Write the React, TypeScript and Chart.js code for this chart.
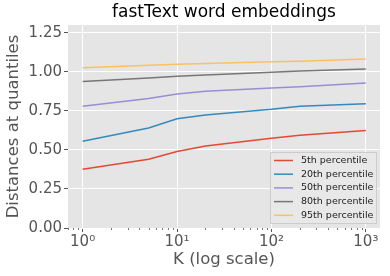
import React, { useEffect, useRef } from "react";
import { Chart, registerables } from "chart.js";

Chart.register(...registerables);

const K_VALUES = [1, 5, 10, 20, 100, 200, 1000];
const P5 = [0.376, 0.44, 0.49, 0.525, 0.575, 0.594, 0.624];
const P20 = [0.556, 0.64, 0.70, 0.724, 0.76, 0.78, 0.796];
const P50 = [0.78, 0.83, 0.858, 0.875, 0.896, 0.905, 0.928];
const P80 = [0.938, 0.96, 0.972, 0.98, 0.998, 1.005, 1.019];
const P95 = [1.027, 1.043, 1.049, 1.053, 1.064, 1.068, 1.083];
const SERIES_LABELS = ["5th percentile", "20th percentile", "50th percentile", "80th percentile", "95th percentile"];
const SERIES_COLORS = ["#E24A33", "#348ABD", "#988ED5", "#777777", "#FBC15E"];
const X_TICKS = [1, 10, 100, 1000];
const X_TICK_LABELS = ["10⁰", "10¹", "10²", "10³"];
const Y_TICKS = [0, 0.25, 0.5, 0.75, 1.0, 1.25];
const TITLE = "fastText word embeddings";

const FONT = "'DejaVu Sans', sans-serif";

const minorTicksPlugin = {
  id: "minorTicks",
  afterDatasetsDraw(chart: any) {
    const ctx = chart.ctx;
    const xs = chart.scales.x;
    const bottom = chart.chartArea.bottom;
    ctx.save();
    ctx.strokeStyle = "#555555";
    ctx.lineWidth = 0.8;
    for (let e = -1; e <= 3; e++) {
      for (let m = 2; m <= 9; m++) {
        const v = m * Math.pow(10, e);
        if (v < xs.min || v > xs.max) continue;
        const px = Math.round(xs.getPixelForValue(v)) + 0.5;
        ctx.beginPath();
        ctx.moveTo(px, bottom);
        ctx.lineTo(px, bottom + 2);
        ctx.stroke();
      }
    }
    ctx.restore();
  },
};

const titlePlugin = {
  id: "areaTitle",
  afterDraw(chart: any) {
    const ctx = chart.ctx;
    const area = chart.chartArea;
    ctx.save();
    ctx.font = `17px ${FONT}`;
    ctx.fillStyle = "#000000";
    ctx.textAlign = "center";
    ctx.textBaseline = "middle";
    ctx.fillText(TITLE, (area.left + area.right) / 2, 13);
    ctx.restore();
  },
};

const legendPlugin = {
  id: "insideLegend",
  afterDatasetsDraw(chart: any) {
    const ctx = chart.ctx;
    const area = chart.chartArea;
    const boxW = 106;
    const boxH = 71;
    const x0 = area.right - 4 - boxW;
    const y0 = area.bottom - 5 - boxH;
    ctx.save();
    ctx.fillStyle = "rgba(232,232,232,0.9)";
    ctx.strokeStyle = "#CCCCCC";
    ctx.lineWidth = 1;
    ctx.beginPath();
    ctx.rect(x0 + 0.5, y0 + 0.5, boxW, boxH);
    ctx.fill();
    ctx.stroke();
    ctx.font = `9.5px ${FONT}`;
    ctx.textBaseline = "middle";
    ctx.textAlign = "left";
    chart.data.datasets.forEach((ds: any, i: number) => {
      const y = y0 + 8.5 + i * 13.7;
      ctx.strokeStyle = ds.borderColor;
      ctx.lineWidth = 1.5;
      ctx.beginPath();
      ctx.moveTo(x0 + 4, y);
      ctx.lineTo(x0 + 23, y);
      ctx.stroke();
      ctx.fillStyle = "#222222";
      ctx.fillText(ds.label, x0 + 31, y);
    });
    ctx.restore();
  },
};

export default function App() {
  const ref = useRef<HTMLCanvasElement | null>(null);
  useEffect(() => {
    document.body.style.margin = "0";
    const seriesValues = [P5, P20, P50, P80, P95];
    const chart = new Chart(ref.current as HTMLCanvasElement, {
      type: "line",
      data: {
        datasets: seriesValues.map((vals, i) => ({
          label: SERIES_LABELS[i],
          data: K_VALUES.map((k, j) => ({ x: k, y: vals[j] })),
          borderColor: SERIES_COLORS[i],
          backgroundColor: SERIES_COLORS[i],
          borderWidth: 1.5,
          pointRadius: 0,
          tension: 0,
          fill: false,
        })),
      },
      options: {
        responsive: false,
        animation: false,
        layout: { padding: { left: 0, right: 10, top: 25, bottom: 0 } },
        plugins: {
          legend: { display: false },
          tooltip: { enabled: false },
          title: { display: false },
        },
        scales: {
          x: {
            type: "logarithmic",
            min: Math.pow(10, -0.15),
            max: Math.pow(10, 3.15),
            afterBuildTicks: (scale: any) => {
              scale.ticks = X_TICKS.map((v) => ({ value: v, major: true }));
            },
            afterFit: (scale: any) => {
              scale.height = 48;
            },
            ticks: {
              autoSkip: false,
              maxRotation: 0,
              color: "#555555",
              font: { family: FONT, size: 15 },
              padding: 1,
              callback: (v: any) => {
                const idx = X_TICKS.indexOf(Number(v));
                return idx >= 0 ? X_TICK_LABELS[idx] : "";
              },
            },
            grid: {
              color: "#FFFFFF",
              lineWidth: 1,
              drawTicks: true,
              tickColor: "#555555",
              tickLength: 4,
            },
            border: { display: false },
            title: {
              display: true,
              text: "K (log scale)",
              color: "#555555",
              font: { family: FONT, size: 16.5 },
              padding: { top: 0, bottom: 6 },
            },
          },
          y: {
            type: "linear",
            min: 0,
            max: 1.3,
            afterBuildTicks: (scale: any) => {
              scale.ticks = Y_TICKS.map((v) => ({ value: v }));
            },
            afterFit: (scale: any) => {
              scale.width = 68;
            },
            ticks: {
              color: "#555555",
              font: { family: FONT, size: 15 },
              padding: 2,
              callback: (v: any) => Number(v).toFixed(2),
            },
            grid: {
              color: "#FFFFFF",
              lineWidth: 1,
              drawTicks: true,
              tickColor: "#555555",
              tickLength: 4,
            },
            border: { display: false },
            title: {
              display: true,
              text: "Distances at quantiles",
              color: "#555555",
              font: { family: FONT, size: 16.5 },
              padding: { top: 4, bottom: 0 },
            },
          },
        },
      },
      plugins: [
        {
          id: "bg",
          beforeDraw(chart: any) {
            const { ctx, chartArea } = chart;
            ctx.save();
            ctx.fillStyle = "#FFFFFF";
            ctx.fillRect(0, 0, chart.width, chart.height);
            ctx.fillStyle = "#E5E5E5";
            ctx.fillRect(chartArea.left, chartArea.top, chartArea.right - chartArea.left, chartArea.bottom - chartArea.top);
            ctx.restore();
          },
        },
        minorTicksPlugin,
        legendPlugin,
        titlePlugin,
      ],
    } as any);
    return () => chart.destroy();
  }, []);
  return (
    <div style={{ width: 390, height: 276 }}>
      <canvas ref={ref} width={390} height={276} style={{ display: "block" }} />
    </div>
  );
}
